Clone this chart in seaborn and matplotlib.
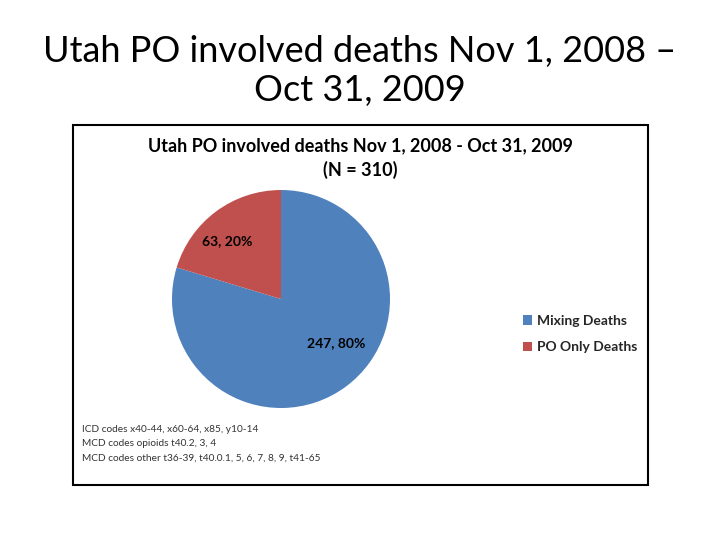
import matplotlib
matplotlib.use("Agg")
import matplotlib.pyplot as plt
import matplotlib.patches as mpatches
import seaborn as sns

categories = ["Mixing Deaths", "PO Only Deaths"]
counts = [247, 63]
percents = [80, 20]
slide_title = "Utah PO involved deaths Nov 1, 2008 –\nOct 31, 2009"
chart_title = "Utah PO involved deaths Nov 1, 2008 - Oct 31, 2009\n(N = 310)"
footnotes = ["ICD codes x40-44, x60-64, x85, y10-14",
             "MCD codes opioids t40.2, 3, 4",
             "MCD codes other t36-39, t40.0.1, 5, 6, 7, 8, 9, t41-65"]

sns.set_theme(style="white")
plt.rcParams['font.family'] = ['Lato', 'DejaVu Sans']

colors = ["#4F81BD", "#C0504D"]

W, H = 720, 540
fig = plt.figure(figsize=(7.2, 5.4), dpi=100)
fig.patch.set_facecolor("white")

def fx(x): return x / W
def fy(y): return 1 - y / H

# Slide title
fig.text(0.5, fy(71), slide_title, ha="center", va="center",
         fontsize=26, color="black", linespacing=1.22)

# Chart border
fig.add_artist(mpatches.Rectangle((fx(73), fy(485)), 575 / W, 360 / H,
                                  transform=fig.transFigure, fill=False,
                                  edgecolor="black", linewidth=1.5))

# Chart title
fig.text(fx(360), fy(158), chart_title, ha="center", va="center",
         fontsize=13, fontweight="bold", color="black", linespacing=1.4)

# Pie
cx, cy, r = 281, 299, 109
ax = fig.add_axes([fx(cx - r), fy(cy + r), 2 * r / W, 2 * r / H])
wedges, _ = ax.pie(counts, colors=colors, startangle=90, counterclock=False,
                   radius=1.0, wedgeprops=dict(linewidth=0))
ax.set_xlim(-1, 1)
ax.set_ylim(-1, 1)
ax.set_aspect("equal")
ax.axis("off")

label_pos = [(0.51, -0.40), (-0.49, 0.53)]
for c, p, (lx, ly) in zip(counts, percents, label_pos):
    ax.text(lx, ly, f"{c}, {p}%", ha="center", va="center",
            fontsize=10, fontweight="bold", color="black")

# Legend
fig.legend(wedges, categories, loc="center left",
           bbox_to_anchor=(fx(510), fy(334)), frameon=False,
           prop=dict(size=10, weight="bold"), handlelength=0.7,
           handleheight=0.7, handletextpad=0.35, labelspacing=1.05)

# Footnotes
for i, t in enumerate(footnotes):
    fig.text(fx(82), fy(430 + 14 * i), t, ha="left", va="center",
             fontsize=7.3, color="#333333")

fig.savefig("out.png", dpi=100, facecolor="white")
